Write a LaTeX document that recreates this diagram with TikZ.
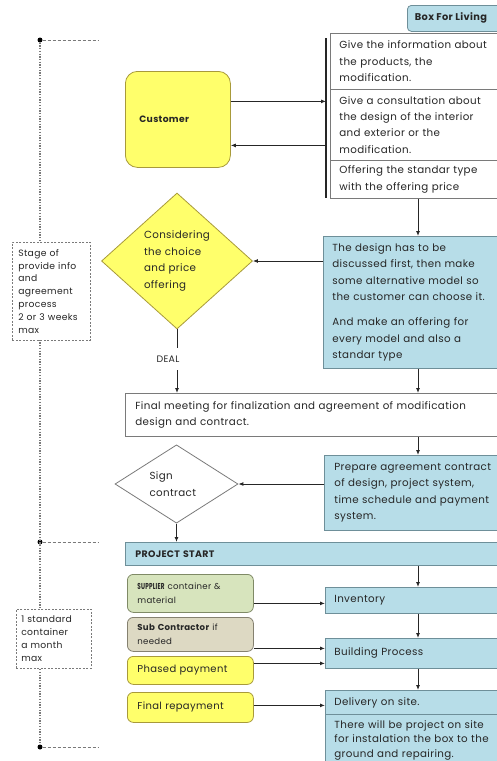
\documentclass[tikz,border=0pt]{standalone}
\usepackage{fontspec}
\setmainfont{Poppins}[LetterSpace=3.5]
\usetikzlibrary{shapes.geometric,arrows.meta,calc}
\definecolor{bluefill}{HTML}{B7DDE8}
\definecolor{bluedraw}{HTML}{6E8F99}
\definecolor{yelfill}{HTML}{FFFF6B}
\definecolor{yeldraw}{HTML}{A89A3A}
\definecolor{grnfill}{HTML}{D7E4BD}
\definecolor{grndraw}{HTML}{7F8A66}
\definecolor{tanfill}{HTML}{DDD9C3}
\definecolor{tandraw}{HTML}{858170}
\definecolor{graydraw}{HTML}{7A7A7A}
\definecolor{ink}{HTML}{262626}
\begin{document}
\begin{tikzpicture}[x=1pt,y=-1pt,
  every node/.style={text=ink, font=\fontsize{10.3}{16.4}\selectfont},
  base/.style={rectangle, anchor=north west, align=left, inner ysep=0pt, line width=0.8pt},
  bluebox/.style={base, draw=bluedraw, fill=bluefill},
  whitebox/.style={base, draw=graydraw, fill=white},
  sidebox/.style={base, rounded corners=6pt, font=\fontsize{8.6}{14}\selectfont},
  stagebox/.style={base, draw=graydraw, fill=white, dash pattern=on 2pt off 1.5pt,
    line width=0.7pt, inner xsep=6pt, font=\fontsize{9.2}{12.9}\selectfont},
  choice/.style={diamond, inner sep=0pt, line width=0.8pt, align=left},
  arr/.style={-{Latex[length=5pt,width=4pt]}, line width=0.9pt, draw=ink},
  plain/.style={line width=0.9pt, draw=ink},
  dot/.style={circle, fill=black, inner sep=0pt, minimum size=5pt},
  vdots/.style={draw=graydraw, line width=1.3pt, dash pattern=on 1.3pt off 1.4pt},
  hdash/.style={draw=graydraw, line width=1pt, dash pattern=on 3pt off 2pt}
]
\useasboundingbox (0,0) rectangle (497,761);

% time line on the left
\node[dot] (t1) at (40,40) {};
\node[dot] (t2) at (40,542) {};
\node[dot] (t3) at (40,747) {};
\draw[vdots] (t1) -- (t3);
\draw[hdash] (t1) -- ++(58,0);
\draw[hdash] (t2) -- ++(58,0);
\draw[hdash] (t3) -- ++(58,0);

\node[stagebox, minimum width=78pt, minimum height=98pt, text width=66pt] (stage1) at (12,242)
  {Stage of\\provide info\\and\\agreement\\process\\2 or 3 weeks\\max};
\node[stagebox, minimum width=75pt, minimum height=59pt, text width=65pt, inner xsep=5pt] (stage2) at (16,609)
  {1 standard\\container\\a month\\max};

% header tab
\node[base, draw=bluedraw, fill=bluefill, rounded corners=4pt, minimum width=95pt,
  minimum height=26pt, align=center, font=\bfseries\fontsize{9.8}{11}\selectfont] (tab) at (407,5)
  {Box For Living\hspace{8pt}};

% customer
\node[base, draw=yeldraw, fill=yelfill, rounded corners=12pt, minimum width=105pt,
  minimum height=96pt, inner xsep=14pt, text width=77pt,
  font=\bfseries\fontsize{9.2}{10}\selectfont] (cust) at (125,71) {Customer};

% service list
\node[whitebox, minimum width=172pt, minimum height=56pt, inner xsep=9pt, text width=160pt] (row1) at (330,33)
  {Give the information about\\the products, the\\modification.};
\node[whitebox, minimum width=172pt, minimum height=71pt, inner xsep=9pt, text width=160pt] (row2) at (330,89)
  {Give a consultation about\\the design of the interior\\and exterior or the\\modification.};
\node[whitebox, minimum width=172pt, minimum height=38pt, inner xsep=9pt, text width=160pt] (row3) at (330,160)
  {Offering the standar type\\with the offering price};
\coordinate (bartop) at (326,38);
\coordinate (barbot) at (326,198);
\draw[line width=1.6pt, draw=ink] (bartop) -- (barbot);

\coordinate (spine) at (418,0);

\draw[arr] ([yshift=18pt]cust.east) -- ([yshift=18pt]cust.east -| bartop);
\draw[arr] ([yshift=-26pt]cust.east -| bartop) -- ([yshift=-26pt]cust.east);

% design discussion
\node[bluebox, minimum width=179pt, minimum height=132pt, inner xsep=9pt, text width=166pt] (blue1) at (323,236)
  {The design has to be\\discussed first, then make\\some alternative model so\\the customer can choose it.\\[9pt]And make an offering for\\every model and also a\\standar type};
\draw[arr] (spine |- row3.south) -- (spine |- blue1.north);

\node[choice, draw=yeldraw, fill=yelfill, minimum width=151pt, minimum height=136pt,
  text width=66pt] (d1) at (177,261) {Considering\\the choice\\and price\\offering};
\draw[arr] (blue1.west |- d1.east) -- (d1.east);

\node[inner sep=0pt, minimum height=22pt, font=\fontsize{9.4}{10}\selectfont] (deal) at (168,359) {DEAL};

% final meeting
\node[whitebox, minimum width=377pt, minimum height=43pt, inner xsep=10pt, text width=357pt] (final) at (125,393)
  {Final meeting for finalization and agreement of modification\\design and contract.};
\draw[plain] (d1.south) -- (d1.south |- deal.north);
\draw[arr] (d1.south |- deal.south) -- (d1.south |- final.north);
\draw[arr] (spine |- blue1.south) -- (spine |- final.north);

% contract
\node[bluebox, minimum width=178pt, minimum height=75pt, inner xsep=10pt, text width=166pt] (blue2) at (324,455)
  {Prepare agreement contract\\of design, project system,\\time schedule and payment\\system.};
\draw[arr] (spine |- final.south) -- (spine |- blue2.north);

\node[choice, draw=graydraw, fill=white, minimum width=123pt, minimum height=66pt,
  text width=54pt] (sign) at (176.5,484) {Sign\\contract};
\draw[arr] (blue2.west |- sign.east) -- (sign.east);

% project stage
\node[bluebox, minimum width=377pt, minimum height=23pt, inner xsep=10pt, text width=357pt,
  font=\bfseries\fontsize{9.4}{10}\selectfont] (pstart) at (125,542) {PROJECT START};
\draw[arr] (sign.south) -- (sign.south |- pstart.north);

\node[sidebox, draw=grndraw, fill=grnfill, minimum width=126pt, minimum height=38pt,
  inner xsep=10pt, text width=106pt] (supp) at (127,574)
  {\scalebox{0.66}[1]{\textbf{SUPPLIER}} container \&\\material};
\node[sidebox, draw=tandraw, fill=tanfill, minimum width=126pt, minimum height=34pt,
  inner xsep=10pt, text width=106pt] (subc) at (127,617) {\textbf{Sub Contractor} if\\needed};
\node[sidebox, draw=yeldraw, fill=yelfill, minimum width=126pt, minimum height=28pt,
  inner xsep=10pt, text width=106pt, font=\fontsize{10}{12}\selectfont] (phase) at (127,656) {Phased payment};
\node[sidebox, draw=yeldraw, fill=yelfill, minimum width=126pt, minimum height=30pt,
  inner xsep=10pt, text width=106pt, font=\fontsize{10}{12}\selectfont] (frep) at (127,692) {Final repayment};

\node[bluebox, minimum width=177pt, minimum height=26pt, inner xsep=9pt, text width=165pt] (inv) at (325,587) {Inventory};
\node[bluebox, minimum width=177pt, minimum height=30pt, inner xsep=9pt, text width=165pt] (build) at (325,638) {Building Process};
\node[bluebox, minimum width=177pt, minimum height=24pt, inner xsep=9pt, text width=165pt] (deliv) at (325,690) {Delivery on site.};
\node[bluebox, minimum width=177pt, minimum height=52pt, inner xsep=9pt, text width=165pt,
  font=\fontsize{10.3}{14.6}\selectfont] (install) at (325,714)
  {There will be project on site\\for instalation the box to the\\ground and repairing.};

\draw[arr] (spine |- pstart.south) -- (spine |- inv.north);
\draw[arr] (spine |- inv.south) -- (spine |- build.north);
\draw[arr] (spine |- build.south) -- (spine |- deliv.north);

\draw[arr] ([yshift=-10pt]supp.east) -- ([yshift=-10pt]supp.east -| inv.west);
\draw[arr] ([yshift=-14pt]subc.east) -- ([yshift=-14pt]subc.east -| build.west);
\draw[arr] ([yshift=7pt]phase.east) -- ([yshift=7pt]phase.east -| build.west);
\draw[arr] ([yshift=2pt]frep.east) -- ([yshift=2pt]frep.east -| deliv.west);
\end{tikzpicture}
\end{document}
